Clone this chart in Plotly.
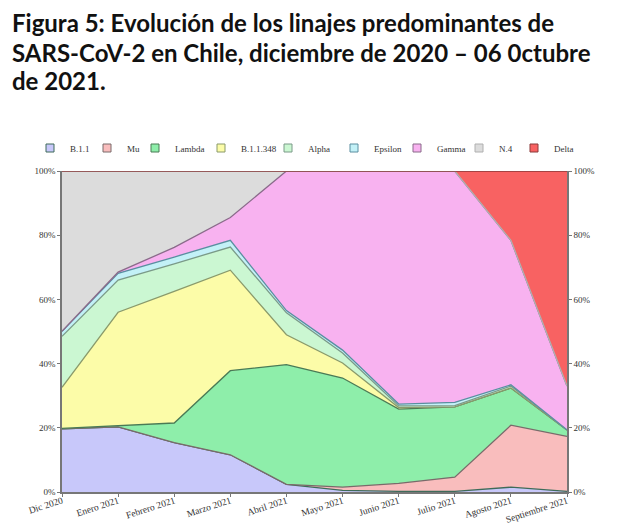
import plotly.graph_objects as go

months = ["Dic 2020", "Enero 2021", "Febrero 2021", "Marzo 2021", "Abril 2021",
          "Mayo 2021", "Junio 2021", "Julio 2021", "Agosto 2021", "Septiembre 2021"]

b_1_1     = [19.7, 20.3, 15.4, 11.6, 2.4, 0.5, 0.2, 0.2, 1.5, 0.2]
mu        = [0.0, 0.0, 0.0, 0.0, 0.0, 1.0, 2.5, 4.4, 19.3, 17.1]
lambda_   = [0.1, 0.3, 6.1, 26.2, 37.3, 34.0, 23.1, 21.9, 11.6, 2.0]
b_1_1_348 = [12.8, 35.4, 41.0, 31.3, 9.3, 4.7, 0.5, 0.0, 0.0, 0.0]
alpha     = [15.9, 10.0, 8.6, 7.2, 6.8, 3.1, 0.5, 0.4, 0.6, 0.0]
epsilon   = [1.6, 2.1, 2.1, 2.1, 0.7, 0.9, 0.6, 1.0, 0.4, 0.1]
gamma     = [0.0, 0.4, 3.0, 7.1, 43.5, 55.8, 72.6, 72.1, 45.0, 13.6]
n_4       = [49.9, 31.5, 23.8, 14.5, 0.0, 0.0, 0.0, 0.0, 0.0, 0.0]
delta     = [0.0, 0.0, 0.0, 0.0, 0.0, 0.0, 0.0, 0.0, 21.6, 67.0]

y_ticks = [0, 20, 40, 60, 80, 100]
y_tick_labels = ["0%", "20%", "40%", "60%", "80%", "100%"]

series = [
    ("B.1.1", b_1_1, "#c8c8fa", "#3f6b5a"),
    ("Mu", mu, "#f9bdbd", "#7a6a6a"),
    ("Lambda", lambda_, "#8eeeaa", "#4a7a55"),
    ("B.1.1.348", b_1_1_348, "#fcfca8", "#8a9a6a"),
    ("Alpha", alpha, "#cbf7d2", "#7a9a88"),
    ("Epsilon", epsilon, "#c3f1f7", "#5a8ea0"),
    ("Gamma", gamma, "#f8b2f0", "#8a6a8a"),
    ("N.4", n_4, "#dcdcdc", "#b0b0b0"),
    ("Delta", delta, "#f86262", "#8a3a3a"),
]

# left edge (px) of each legend entry box
legend_left_px = [30, 87, 135, 201, 268, 334, 397, 459, 514]

PLOT_L, PLOT_W = 62, 505
PLOT_B, PLOT_H = 492, 321

fig = go.Figure()
for name, vals, fill, line in series:
    fig.add_trace(go.Scatter(
        x=months, y=vals, name=name, stackgroup="one", mode="lines",
        line=dict(color=line, width=1.3), fillcolor=fill, showlegend=False,
        hoverinfo="x+y+name"))

legend_layouts = {}
for i, (name, vals, fill, line) in enumerate(series):
    key = "legend" if i == 0 else f"legend{i + 1}"
    fig.add_trace(go.Scatter(
        x=[None], y=[None], name=name, mode="markers", legend=key,
        marker=dict(symbol="square", size=8, color=fill, line=dict(color=line, width=1)),
        showlegend=True))
    legend_layouts[key] = dict(
        orientation="h", x=(legend_left_px[i] - PLOT_L) / PLOT_W,
        y=(PLOT_B - 148) / PLOT_H, xanchor="left", yanchor="middle",
        font=dict(family="Liberation Serif, serif", size=9, color="#333333"),
        itemwidth=30, bgcolor="rgba(0,0,0,0)")

# invisible trace for the right axis
fig.add_trace(go.Scatter(x=[months[0], months[-1]], y=[0, 100], yaxis="y2",
                         mode="markers", marker=dict(opacity=0), showlegend=False,
                         hoverinfo="skip"))

tickfont = dict(family="Liberation Serif, serif", size=9, color="#333333")

fig.update_layout(
    width=620, height=526,
    margin=dict(l=PLOT_L, r=620 - PLOT_L - PLOT_W, t=PLOT_B - PLOT_H, b=526 - PLOT_B,
                autoexpand=False),
    paper_bgcolor="white", plot_bgcolor="white",
    showlegend=True,
    xaxis=dict(type="category", range=[0, 9], showgrid=False, zeroline=False,
               automargin=False, tickangle=-18,
               tickfont=dict(family="Liberation Serif, serif", size=9.5, color="#333333"),
               ticks="outside", ticklen=3, tickcolor="#777777",
               showline=True, linecolor="#777777", linewidth=1.5, mirror=False),
    yaxis=dict(range=[0, 100], tickmode="array", tickvals=y_ticks, ticktext=y_tick_labels,
               automargin=False, showgrid=False, zeroline=False, tickfont=tickfont,
               ticks="outside", ticklen=3, tickcolor="#777777", showline=True,
               linecolor="#777777", linewidth=1.5),
    yaxis2=dict(range=[0, 100], tickmode="array", tickvals=y_ticks, ticktext=y_tick_labels,
                automargin=False, overlaying="y", side="right", showgrid=False,
                zeroline=False, tickfont=tickfont, ticks="outside", ticklen=3,
                tickcolor="#777777", showline=True, linecolor="#777777", linewidth=1.5),
    **legend_layouts,
)

try:
    fig.update_xaxes(ticklabelstandoff=-5)
except Exception:
    pass

title_lines = ["Figura 5: Evolución de los linajes predominantes de",
               "SARS-CoV-2 en Chile, diciembre de 2020 – 06 0ctubre",
               "de 2021."]
title_y_px = [22, 52, 81]
for txt, py in zip(title_lines, title_y_px):
    fig.add_annotation(text="<b>" + txt + "</b>", xref="paper", yref="paper",
                       x=(10 - PLOT_L) / PLOT_W, y=(PLOT_B - py) / PLOT_H, xanchor="left",
                       yanchor="middle", showarrow=False,
                       font=dict(family="Lato, Noto Sans, sans-serif", size=24, color="#111111"))

fig.write_html("out.html")
